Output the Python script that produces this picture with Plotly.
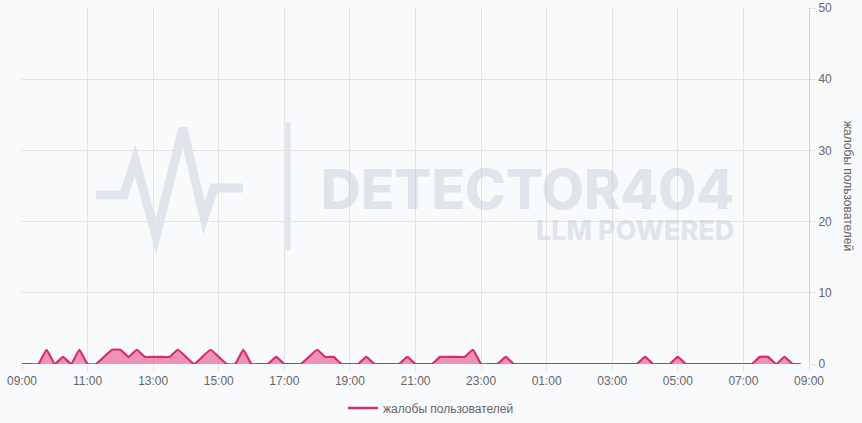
import plotly.graph_objects as go
import pandas as pd

# 15-minute buckets starting 09:00
start = "2024-01-01 09:00"
end = "2024-01-02 09:00"
complaints = [
    0, 0, 0, 2, 0, 1, 0, 2, 0, 0, 1, 2, 2, 1, 2, 1,
    1, 1, 1, 2, 1, 0, 1, 2, 1, 0, 0, 2, 0, 0, 0, 1,
    0, 0, 0, 1, 2, 1, 1, 0, 0, 0, 1, 0, 0, 0, 0, 1,
    0, 0, 0, 1, 1, 1, 1, 2, 0, 0, 0, 1, 0, 0, 0, 0,
    0, 0, 0, 0, 0, 0, 0, 0, 0, 0, 0, 0, 1, 0, 0, 0,
    1, 0, 0, 0, 0, 0, 0, 0, 0, 0, 1, 1, 0, 1, 0, 0,
]
times = pd.date_range(start, periods=len(complaints), freq="15min")
series_name = "жалобы пользователей"
y_ticks = [0, 10, 20, 30, 40, 50]

LINE = "rgb(212,46,108)"
FILL = "rgba(232,60,120,0.55)"
BG = "#f9fafc"
GRID = "#e3e3e3"
TXT = "#666666"
WM = "rgba(175,182,196,0.32)"

fig = go.Figure()
fig.add_trace(go.Scatter(
    x=times, y=complaints, mode="lines", fill="tozeroy",
    line=dict(color=LINE, width=2.2, shape="spline", smoothing=0.35),
    fillcolor=FILL, showlegend=False, name=series_name,
))
fig.add_trace(go.Scatter(
    x=[None], y=[None], mode="lines", name=series_name,
    line=dict(color=LINE, width=2.5),
))

# plot area: px x 22..809, y 8..364
L, R, T, B = 22, 53, 8, 59
W, H = 862, 423
pw, ph = W - L - R, H - T - B

def px(x):
    return (x - L) / pw

def py(y):
    return (H - B - y) / ph

# watermark logo (pulse) and divider
pts = [(96, 195), (124, 195), (135, 160), (156, 236), (183, 128), (204, 218),
       (214, 188), (243, 188)]
path = "M " + " L ".join(f"{px(a):.4f},{py(b):.4f}" for a, b in pts)
fig.add_shape(type="path", path=path, xref="paper", yref="paper",
              line=dict(color=WM, width=9), layer="below")
fig.add_shape(type="line", x0=px(288), x1=px(288), y0=py(122), y1=py(250),
              xref="paper", yref="paper", line=dict(color=WM, width=5), layer="below")

fig.add_annotation(text="DETECTOR404", xref="paper", yref="paper",
                   x=px(736), y=py(189), xanchor="right", yanchor="middle",
                   showarrow=False,
                   font=dict(family="Inter", size=55, color=WM, weight=800))
fig.add_annotation(text="LLM POWERED", xref="paper", yref="paper",
                   x=px(736), y=py(231), xanchor="right", yanchor="middle",
                   showarrow=False,
                   font=dict(family="Inter", size=27, color=WM, weight=800))

fig.add_annotation(text=series_name, xref="paper", yref="paper",
                   x=px(848), y=py(186), xanchor="center", yanchor="middle",
                   textangle=90, showarrow=False,
                   font=dict(family="Liberation Sans", size=12, color=TXT))

fig.update_layout(
    width=W, height=H,
    margin=dict(l=L, r=R, t=T, b=B, autoexpand=False),
    paper_bgcolor=BG, plot_bgcolor=BG,
    font=dict(family="Liberation Sans", size=12, color=TXT),
    legend=dict(orientation="h", xref="container", yref="container",
                x=431 / W, xanchor="center", y=(H - 408) / H, yanchor="middle",
                font=dict(size=12, color=TXT), bgcolor="rgba(0,0,0,0)"),
    xaxis=dict(
        type="date", range=[start, end], tick0=start, dtick=2 * 3600 * 1000,
        tickformat="%H:%M", showgrid=True, gridcolor=GRID, gridwidth=1,
        ticks="outside", ticklen=6, tickcolor=GRID, showline=False,
        zeroline=False, tickfont=dict(size=12, color=TXT), automargin=False,
    ),
    yaxis=dict(
        side="right", range=[0, 50], tickvals=y_ticks, showgrid=True,
        gridcolor=GRID, gridwidth=1, showline=True, linecolor="#cfcfcf",
        ticks="outside", ticklen=6, tickcolor=GRID, zeroline=False,
        tickfont=dict(size=12, color=TXT), automargin=False,
    ),
)

fig.write_html("out.html", config={"displayModeBar": False},
               post_script="document.body.style.margin='0';"
                           "document.body.style.background='" + BG + "';")
